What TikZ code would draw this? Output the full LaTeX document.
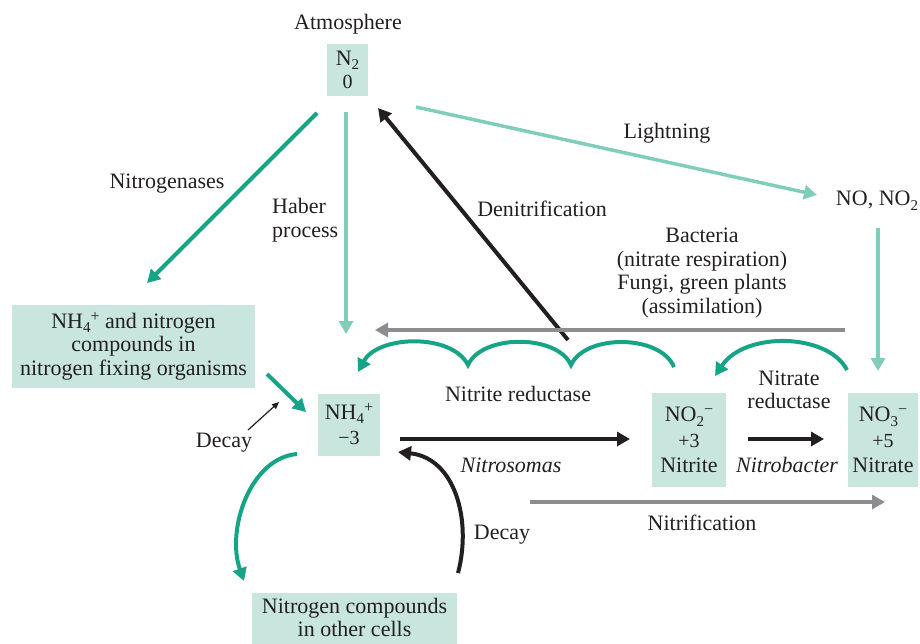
\documentclass[tikz,border=0pt]{standalone}
\usepackage{fontspec}
\setmainfont{Liberation Serif}
\usetikzlibrary{arrows.meta}
\definecolor{boxfill}{HTML}{C8E6DD}
\definecolor{deepteal}{HTML}{16A386}
\definecolor{paleteal}{HTML}{80CDBA}
\definecolor{flowgray}{HTML}{8D8D91}
\definecolor{ink}{HTML}{231F20}
% chemical indices: lowered count, raised charge
\newcommand\chemsub[1]{\smash{\raisebox{-4.5pt}{\fontsize{15}{15}\selectfont #1}}}
\newcommand\chemsup[1]{\smash{\raisebox{7pt}{\fontsize{16}{16}\selectfont #1}}}
\newcommand\oxstate[1]{{\fontsize{20}{20}\selectfont #1}}
\begin{document}
\begin{tikzpicture}[x=1pt,y=-1pt,
  every node/.style={font=\fontsize{22}{23.5}\selectfont, text=ink, inner sep=0pt},
  species/.style={fill=boxfill, align=center},
  lbl/.style={align=center},
  tipend/.style={-{Triangle[length=13pt,width=14pt]}},
  strongflow/.style={tipend, line width=4pt, draw=deepteal},
  paleflow/.style={tipend, line width=3.5pt, draw=paleteal},
  darkflow/.style={tipend, line width=4pt, draw=ink},
  grayflow/.style={tipend, line width=4pt, draw=flowgray},
  thinflow/.style={-{Triangle[length=7pt,width=6pt]}, line width=1.2pt, draw=ink}
]
\useasboundingbox (0,0) rectangle (920,643);

% species boxes
\node[species, minimum width=41pt, minimum height=52pt] (n2) at (347.5,70)
  {N\chemsub{2}\\[0pt]\oxstate{0}};
\node[species, minimum width=243pt, minimum height=83pt] (fix) at (133.5,346.5)
  {NH\chemsub{4}\chemsup{+} and nitrogen\\compounds in\\nitrogen fixing organisms};
\node[species, minimum width=62pt, minimum height=62pt] (nh4) at (349,425)
  {NH\chemsub{4}\chemsup{+}\\[2pt]\oxstate{−3}};
\node[species, minimum width=74pt, minimum height=94pt] (no2) at (689,440)
  {NO\chemsub{2}\chemsup{−}\\[2pt]\oxstate{+3}\\[2pt]Nitrite};
\node[species, minimum width=70pt, minimum height=94pt] (no3) at (883,440)
  {NO\chemsub{3}\chemsup{−}\\[2pt]\oxstate{+5}\\[2pt]Nitrate};
\node[species, minimum width=205pt, minimum height=57pt] (cells) at (354.5,621.5) {};
\node[lbl] (cellstxt) at (354.5,617.5) {Nitrogen compounds\\in other cells};

% plain labels
\node (atm) at (348,24) {Atmosphere};
\node (nox) at (877,200) {NO, NO\chemsub{2}};
\node (lnase) at (167,184) {Nitrogenases};
\node[align=left, anchor=west] (lhaber) at (272,220) {Haber\\process};
\node (ldenit) at (542,209) {Denitrification};
\node (llight) at (667,133) {Lightning};
\node[lbl] (lbact) at (702,273) {Bacteria\\(nitrate respiration)\\Fungi, green plants\\(assimilation)};
\node (lnirr) at (518,394) {Nitrite reductase};
\node[lbl] (lnarr) at (789,390) {Nitrate\\reductase};
\node (lsomas) at (511,465) {\itshape Nitrosomas};
\node (lbacter) at (787,465) {\itshape Nitrobacter};
\node (ldecayA) at (224,443) {Decay};
\node (ldecayB) at (502,535) {Decay};
\node (lnitrif) at (702,523) {Nitrification};

% connector end points
\coordinate (aseS) at (317,113);  \coordinate (aseE) at (147,283);
\coordinate (habS) at (346,112);  \coordinate (habE) at (346,334);
\coordinate (denS) at (568,340);  \coordinate (denE) at (378,108);
\coordinate (ligS) at (416,107);  \coordinate (ligE) at (817,195);
\coordinate (noxS) at (878,228);  \coordinate (noxE) at (878,371);
\coordinate (bacS) at (845,330);  \coordinate (bacE) at (375,330);
\coordinate (fixS) at (267,374);  \coordinate (fixE) at (306,412);
\coordinate (dcaS) at (248,430);  \coordinate (dcaE) at (279,402);
\coordinate (somS) at (400,439);  \coordinate (somE) at (630,439);
\coordinate (batS) at (748,439);  \coordinate (batE) at (824,439);
\coordinate (nfS) at (530,502);   \coordinate (nfE) at (885,502);
\coordinate (nirS) at (674,367);  \coordinate (nirA) at (571,365);
\coordinate (nirB) at (468,365);  \coordinate (nirE) at (358,372);
\coordinate (narS) at (847,370);  \coordinate (narE) at (715,376);
\coordinate (upS) at (297,454);   \coordinate (upE) at (244,581);
\coordinate (dcbS) at (458,573);  \coordinate (dcbE) at (398,452);

% fixation from the atmosphere
\draw[strongflow] (aseS) -- (aseE);
\draw[paleflow] (habS) -- (habE);
\draw[paleflow] (ligS) -- (ligE);
\draw[paleflow] (noxS) -- (noxE);
\draw[darkflow] (denS) -- (denE);
\draw[grayflow] (bacS) -- (bacE);

% reductases
\draw[strongflow] (nirS) .. controls (660,334) and (585,334) .. (nirA)
  .. controls (557,334) and (482,334) .. (nirB)
  .. controls (452,333) and (378,335) .. (nirE);
\draw[strongflow] (narS) .. controls (828,333) and (745,331) .. (narE);

% nitrification
\draw[darkflow] (somS) -- (somE);
\draw[darkflow] (batS) -- (batE);
\draw[grayflow] (nfS) -- (nfE);

% ammonium exchange
\draw[strongflow] (fixS) -- (fixE);
\draw[thinflow] (dcaS) -- (dcaE);
\draw[strongflow] (upS) .. controls (250,458) and (226,530) .. (upE);
\draw[darkflow] (dcbS) .. controls (472,520) and (455,458) .. (dcbE);
\end{tikzpicture}
\end{document}
